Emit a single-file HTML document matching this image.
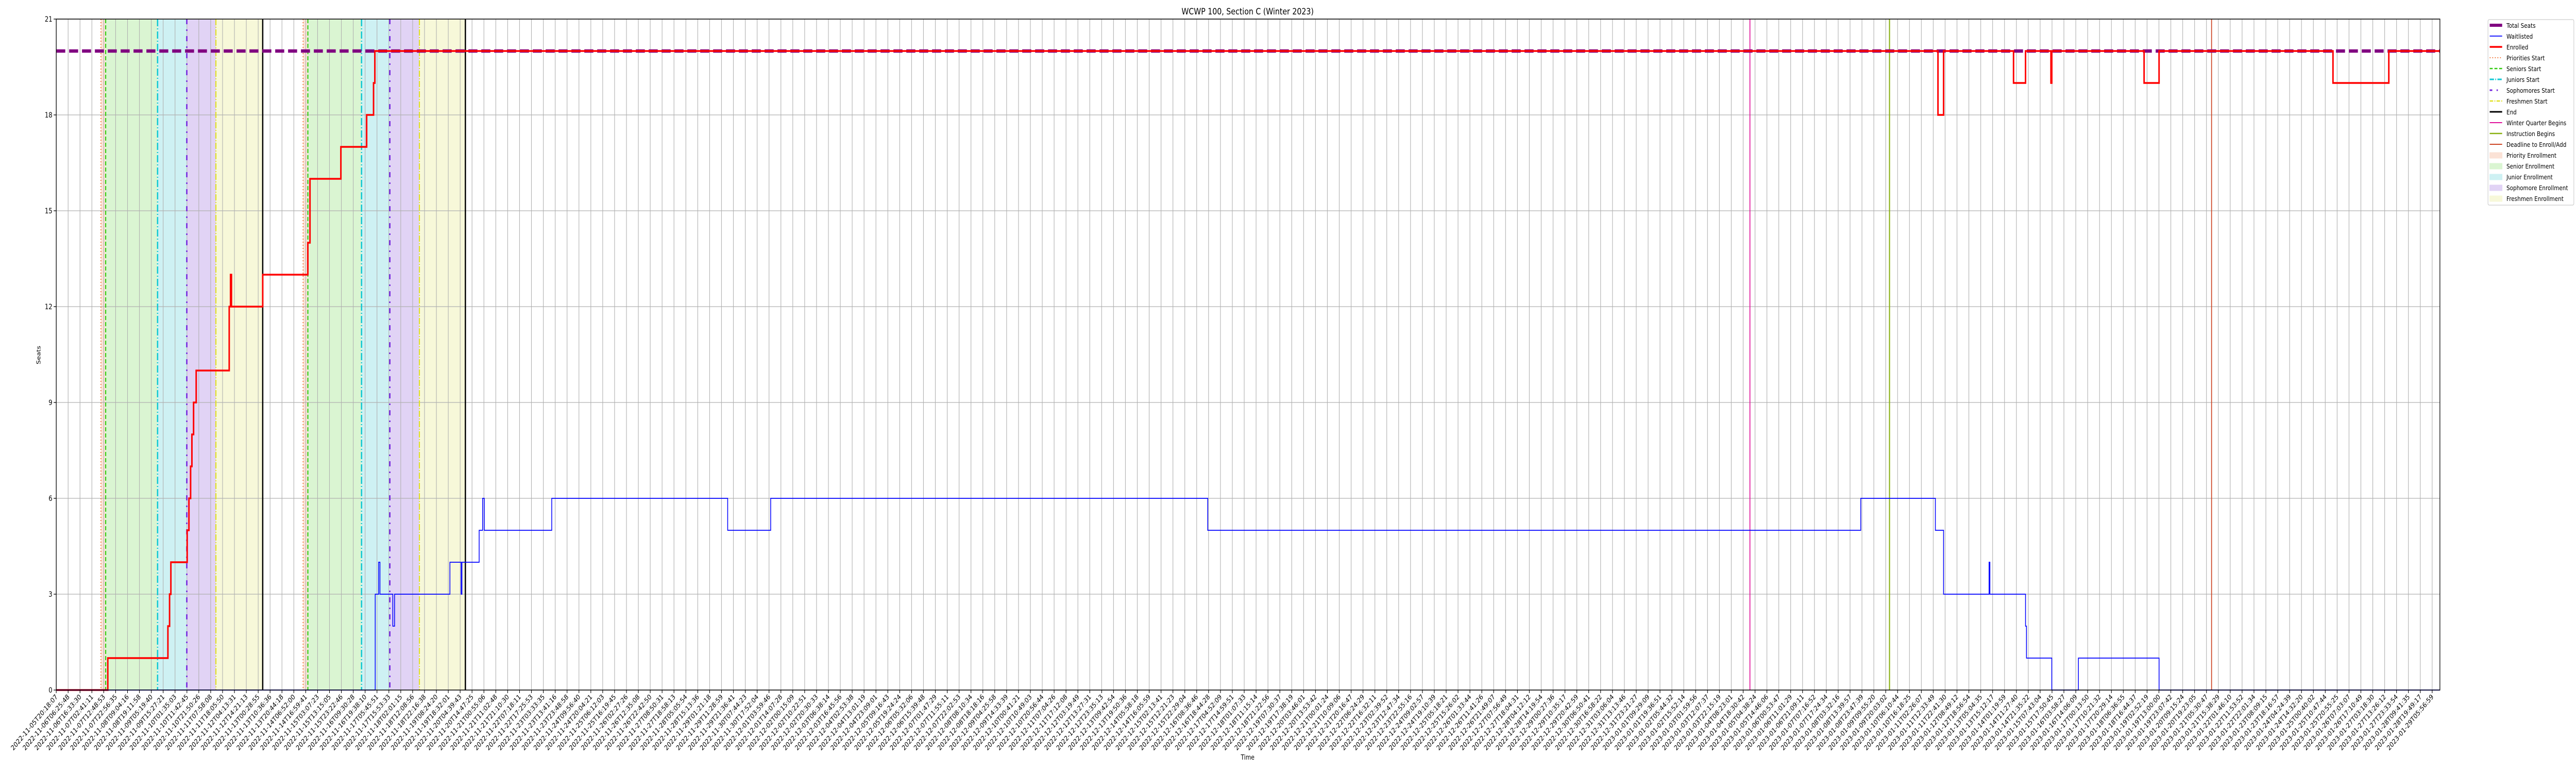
<!DOCTYPE html>
<html><head><meta charset="utf-8">
<style>
html,body{margin:0;padding:0;background:#fff;width:100vw;height:100vh;overflow:hidden;}
svg{display:block;width:100vw;height:100vh;font-family:"DejaVu Sans","Liberation Sans",sans-serif;overflow:hidden;}
</style></head>
<body>
<svg id="chart" viewBox="0 0 6000 1500" preserveAspectRatio="none" xmlns="http://www.w3.org/2000/svg">
<text x="2906" y="28" font-size="17" text-anchor="middle">WCWP 100, Section C (Winter 2023)</text>
<text x="2906" y="1474" font-size="13" text-anchor="middle">Time</text>
<text x="0" y="0" font-size="13" text-anchor="middle" transform="translate(94,689) rotate(-90)">Seats</text>
<g id="shade"></g><g id="grid"></g><g id="vlines"></g><g id="series"></g><g id="axes"></g><g id="legend"></g>
</svg>
<script>
// ---- data (x in tick-index units, y in seats) ----
const totalSeats = 20;
const yTicks = [0, 3, 6, 9, 12, 15, 18, 21];
const tickCount = 201;
const firstTickLabel = "2022-11-05T20:18:07";
const lastTickLabel = "2023-01-29T05:56:59";
const enrolledX = [0, 4.34, 9.40, 9.54, 9.65, 11.02, 11.17, 11.31, 11.42, 11.56, 11.78, 14.56, 14.67, 14.75, 17.38, 21.18, 21.36, 23.96, 26.13, 26.71, 26.82, 158.40, 158.87, 164.76, 165.77, 167.91, 167.98, 175.75, 177.01, 191.65, 196.35];
const enrolledY = [0, 1, 2, 3, 4, 5, 6, 7, 8, 9, 10, 12, 13, 12, 13, 14, 16, 17, 18, 19, 20, 18, 20, 19, 20, 19, 20, 19, 20, 19, 20];
const waitX = [0, 26.85, 27.14, 27.25, 28.33, 28.48, 33.14, 34.08, 34.15, 35.60, 35.89, 36.03, 41.71, 56.52, 60.14, 96.93, 151.90, 158.18, 158.87, 162.70, 162.77, 165.77, 165.85, 167.98, 170.22, 177.01];
const waitY = [0, 3, 4, 3, 2, 3, 4, 3, 4, 5, 6, 5, 6, 5, 6, 5, 6, 5, 3, 4, 3, 2, 1, 0, 1, 0];
const prioStart = [3.76, 20.78];
const seniorStart = [4.16, 21.18];
const juniorStart = [8.53, 25.70];
const sophStart = [10.99, 28.08];
const freshStart = [13.44, 30.57];
const endTimes = [17.38, 34.44];
const winterBegins = 142.57;
const instructionBegins = 154.32;
const deadline = 181.43;
const xMax = 200.65;

// ---- scales ----
const L = 131, R = 5683, T = 37, B = 1339;
function xs(t) { return L + t * 27.67; }
function ys(v) { return B - v * (B - T) / 21; }
const NS = "http://www.w3.org/2000/svg";
function mk(tag, parent, attrs) {
  const e = document.createElementNS(NS, tag);
  for (const k in attrs) e.setAttribute(k, attrs[k]);
  document.getElementById(parent).appendChild(e);
  return e;
}

// shading
const shadeDefs = [[prioStart, seniorStart, "#fbe2d6", "priority-enrollment-band"],
  [seniorStart, juniorStart, "#daf5d2", "senior-enrollment-band"],
  [juniorStart, sophStart, "#cef1f3", "junior-enrollment-band"],
  [sophStart, freshStart, "#e1d3f5", "sophomore-enrollment-band"],
  [freshStart, endTimes, "#f7f8d9", "freshmen-enrollment-band"]];
shadeDefs.forEach(d => {
  for (let i = 0; i < d[0].length; i++) {
    const r = mk("rect", "shade", {x: xs(d[0][i]), y: T, width: xs(d[1][i]) - xs(d[0][i]), height: B - T, fill: d[2]});
    
    
  }
});

// grid + ticks
function pad(n) { return String(n).padStart(2, "0"); }
const t0 = Date.parse(firstTickLabel + "Z"), t1 = Date.parse(lastTickLabel + "Z");
for (let i = 0; i < tickCount; i++) {
  const x = xs(i);
  const g = mk("line", "grid", {x1: x, x2: x, y1: T, y2: B, stroke: "#b0b0b0", "stroke-width": 1.3});
  
  
  const tk = mk("line", "axes", {x1: x, x2: x, y1: B, y2: B + 6, stroke: "#000", "stroke-width": 1.3});
  
  
  const d = new Date(t0 + (t1 - t0) * i / (tickCount - 1));
  const lbl = d.getUTCFullYear() + "-" + pad(d.getUTCMonth() + 1) + "-" + pad(d.getUTCDate()) + "T" + pad(d.getUTCHours()) + ":" + pad(d.getUTCMinutes()) + ":" + pad(d.getUTCSeconds());
  const tx = mk("text", "axes", {x: 0, y: 0, "font-size": 13.5, "text-anchor": "end", transform: "translate(" + (x + 4) + "," + (B + 14) + ") rotate(-45)"});
  tx.textContent = lbl;
  
  
}
yTicks.forEach(v => {
  const y = ys(v);
  const g = mk("line", "grid", {x1: L, x2: R, y1: y, y2: y, stroke: "#b0b0b0", "stroke-width": 1.3});
  
  
  const tk = mk("line", "axes", {x1: L - 6, x2: L, y1: y, y2: y, stroke: "#000", "stroke-width": 1.3});
  
  
  const tx = mk("text", "axes", {x: L - 9, y: y + 5, "font-size": 14, "text-anchor": "end"});
  tx.textContent = v;
  
  
});
const frame = mk("rect", "axes", {x: L, y: T, width: R - L, height: B - T, fill: "none", stroke: "#000", "stroke-width": 1.5});



// vertical event lines
function vline(t, color, dash, w, name) {
  const l = mk("line", "vlines", {x1: xs(t), x2: xs(t), y1: T, y2: B, stroke: color, "stroke-width": w});
  if (dash) l.setAttribute("stroke-dasharray", dash);
  
  
}
prioStart.forEach(t => vline(t, "#f07030", "2,4", 2, "priorities-start-line"));
seniorStart.forEach(t => vline(t, "#33cc11", "8,4", 2.5, "seniors-start-line"));
juniorStart.forEach(t => vline(t, "#10c8d4", "14,4,2,4", 3, "juniors-start-line"));
sophStart.forEach(t => vline(t, "#7020dd", "10,10,3,10", 3, "sophomores-start-line"));
freshStart.forEach(t => vline(t, "#e0e020", "12,3,2,3", 2.5, "freshmen-start-line"));
endTimes.forEach(t => vline(t, "#000", null, 3, "end-line"));
vline(winterBegins, "#e0109a", null, 2, "winter-quarter-begins-line");
vline(instructionBegins, "#88b010", null, 2.5, "instruction-begins-line");
vline(deadline, "#cc4422", null, 2, "deadline-line");

// series
function stepPath(X, Y) {
  let d = "M" + xs(X[0]) + "," + ys(Y[0]);
  for (let i = 1; i < X.length; i++) d += "H" + xs(X[i]) + "V" + ys(Y[i]);
  d += "H" + xs(xMax);
  return d;
}
const ts = mk("line", "series", {x1: L, x2: R, y1: ys(totalSeats), y2: ys(totalSeats), stroke: "#800080", "stroke-width": 6.5, "stroke-dasharray": "21,9"});


const en = mk("path", "series", {d: stepPath(enrolledX, enrolledY), fill: "none", stroke: "#ff0000", "stroke-width": 3.5});


const wl = mk("path", "series", {d: stepPath(waitX, waitY), fill: "none", stroke: "#0000ff", "stroke-width": 1.8});



// legend
const lb = mk("rect", "legend", {x: 5795, y: 38, width: 200, height: 360, rx: 3, fill: "#fff", stroke: "#cccccc", "stroke-width": 1.3});


const legendItems = [
  ["Total Seats", "line", "#800080", null, 6],
  ["Waitlisted", "line", "#0000ff", null, 1.8],
  ["Enrolled", "line", "#ff0000", null, 3.5],
  ["Priorities Start", "line", "#f07030", "2,4", 2],
  ["Seniors Start", "line", "#33cc11", "7,4", 2.5],
  ["Juniors Start", "line", "#10c8d4", "10,3,2,3", 3],
  ["Sophomores Start", "line", "#7020dd", "6,10,3,10", 3],
  ["Freshmen Start", "line", "#e0e020", "8,3,2,3", 2.5],
  ["End", "line", "#000", null, 3],
  ["Winter Quarter Begins", "line", "#e0109a", null, 2],
  ["Instruction Begins", "line", "#88b010", null, 2.5],
  ["Deadline to Enroll/Add", "line", "#cc4422", null, 2],
  ["Priority Enrollment", "patch", "#fbe2d6"],
  ["Senior Enrollment", "patch", "#daf5d2"],
  ["Junior Enrollment", "patch", "#cef1f3"],
  ["Sophomore Enrollment", "patch", "#e1d3f5"],
  ["Freshmen Enrollment", "patch", "#f7f8d9"]];
legendItems.forEach((it, i) => {
  const cy = 49 + i * 21;
  let h;
  if (it[1] === "line") {
    h = mk("line", "legend", {x1: 5799, x2: 5828, y1: cy, y2: cy, stroke: it[2], "stroke-width": it[4]});
    if (it[3]) h.setAttribute("stroke-dasharray", it[3]);
  } else {
    h = mk("rect", "legend", {x: 5799, y: cy - 5, width: 29, height: 11, fill: it[2], stroke: it[2]});
  }
  
  
  const t = mk("text", "legend", {x: 5838, y: cy + 5, "font-size": 12.5});
  t.textContent = it[0];
  
  
});
</script>
</body></html>
